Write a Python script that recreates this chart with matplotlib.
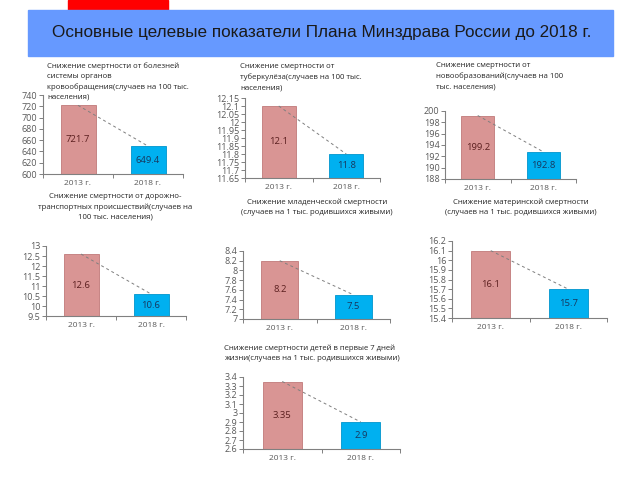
import matplotlib
matplotlib.use("Agg")
import matplotlib.pyplot as plt
import matplotlib.patches as mpatches

# ---------------- data ----------------
main_title = "Основные целевые показатели Плана Минздрава России до 2018 г."
years = ["2013 г.", "2018 г."]

chart_titles = [
    "Снижение смертности от болезней\nсистемы органов\nкровообращения(случаев на 100 тыс.\nнаселения)",
    "Снижение смертности от\nтуберкулёза(случаев на 100 тыс.\nнаселения)",
    "Снижение смертности от\nновообразований(случаев на 100\nтыс. населения)",
    "Снижение смертности от дорожно-\nтранспортных происшествий(случаев на\n100 тыс. населения)",
    "Снижение младенческой смертности\n(случаев на 1 тыс. родившихся живыми)",
    "Снижение материнской смертности\n(случаев на 1 тыс. родившихся живыми)",
    "Снижение смертности детей в первые 7 дней\nжизни(случаев на 1 тыс. родившихся живыми)",
]
values_2013 = [721.7, 12.1, 199.2, 12.6, 8.2, 16.1, 3.35]
values_2018 = [649.4, 11.8, 192.8, 10.6, 7.5, 15.7, 2.9]
labels_2013 = ["721.7", "12.1", "199.2", "12.6", "8.2", "16.1", "3.35"]
labels_2018 = ["649.4", "11.8", "192.8", "10.6", "7.5", "15.7", "2.9"]
yticks = [
    [600, 620, 640, 660, 680, 700, 720, 740],
    [11.65, 11.7, 11.75, 11.8, 11.85, 11.9, 11.95, 12.0, 12.05, 12.1, 12.15],
    [188, 190, 192, 194, 196, 198, 200],
    [9.5, 10, 10.5, 11, 11.5, 12, 12.5, 13],
    [7.0, 7.2, 7.4, 7.6, 7.8, 8.0, 8.2, 8.4],
    [15.4, 15.5, 15.6, 15.7, 15.8, 15.9, 16.0, 16.1, 16.2],
    [2.6, 2.7, 2.8, 2.9, 3.0, 3.1, 3.2, 3.3, 3.4],
]

# ---------------- layout (pixels) ----------------
W, H = 640, 480
# axes: x_left, x_right, y_top, y_bottom
axes_px = [
    (43, 183, 95, 174),
    (245, 380, 98, 178),
    (445, 576, 111, 179),
    (46, 186, 246, 316),
    (243, 390, 251, 319),
    (452, 607, 241, 318),
    (243, 400, 377, 449),
]
# title: x, y_top, ha
title_px = [
    (47, 62, "left"),
    (240, 63, "left"),
    (436, 62, "left"),
    (115, 193, "center"),
    (317, 199, "center"),
    (521, 199, "center"),
    (224, 345, "left"),
]

plt.rcParams["font.family"] = ["Open Sans", "DejaVu Sans"]

fig = plt.figure(figsize=(6.4, 4.8), dpi=100)
fig.patch.set_facecolor("white")

# header decorations
fig.patches.append(mpatches.Rectangle((68 / W, 1 - 10 / H), 100 / W, 10 / H,
                                      transform=fig.transFigure, color="#ff0000", zorder=1))
fig.patches.append(mpatches.Rectangle((28 / W, 1 - 56 / H), 585 / W, 46 / H,
                                      transform=fig.transFigure, color="#6699ff", zorder=1))
fig.text(322 / W, 1 - 33 / H, main_title, ha="center", va="center",
         fontsize=12.3, color="#1a1a1a", family=["Liberation Sans", "DejaVu Sans"])

axis_col = "#808080"
for i in range(7):
    x0, x1, yt, yb = axes_px[i]
    ax = fig.add_axes([x0 / W, 1 - yb / H, (x1 - x0) / W, (yb - yt) / H])
    ax.set_facecolor("none")
    ymin, ymax = yticks[i][0], yticks[i][-1]
    xs = [0, 1]
    vals = [values_2013[i], values_2018[i]]
    ax.bar(xs, [v - ymin for v in vals], bottom=ymin, width=0.5,
           color=["#d99594", "#00b0f0"], edgecolor=["#c07a79", "#0095cc"], linewidth=0.6,
           zorder=2)
    ax.plot(xs, vals, linestyle=(0, (3, 3)), color="#7f7f7f", linewidth=0.7, zorder=3)
    ax.text(0, (ymin + vals[0]) / 2, labels_2013[i], ha="center", va="center",
            fontsize=6.8, color="#5b1f1f", zorder=4)
    ax.text(1, (ymin + vals[1]) / 2, labels_2018[i], ha="center", va="center",
            fontsize=6.8, color="#17375e", zorder=4)
    ax.set_xlim(-0.5, 1.5)
    ax.set_ylim(ymin, ymax)
    ax.set_yticks(yticks[i])
    ax.set_yticklabels(["%g" % t for t in yticks[i]])
    ax.set_xticks(xs)
    ax.set_xticklabels(years)
    ax.set_xticks([-0.5, 0.5, 1.5], minor=True)
    ax.tick_params(axis="x", which="major", length=0, labelsize=6, colors="#595959", pad=4)
    ax.tick_params(axis="x", which="minor", length=3, direction="out", color=axis_col, width=0.7)
    ax.tick_params(axis="y", length=3, direction="out", color=axis_col, width=0.7,
                   labelsize=6.5, labelcolor="#595959", pad=1)
    for s in ["top", "right"]:
        ax.spines[s].set_visible(False)
    for s in ["left", "bottom"]:
        ax.spines[s].set_color(axis_col)
        ax.spines[s].set_linewidth(0.8)
    tx, ty, ha = title_px[i]
    fig.text(tx / W, 1 - ty / H, chart_titles[i], ha=ha, va="top", fontsize=5.6,
             color="#262626", linespacing=1.6, multialignment=ha)

fig.savefig("out.png", dpi=100)
